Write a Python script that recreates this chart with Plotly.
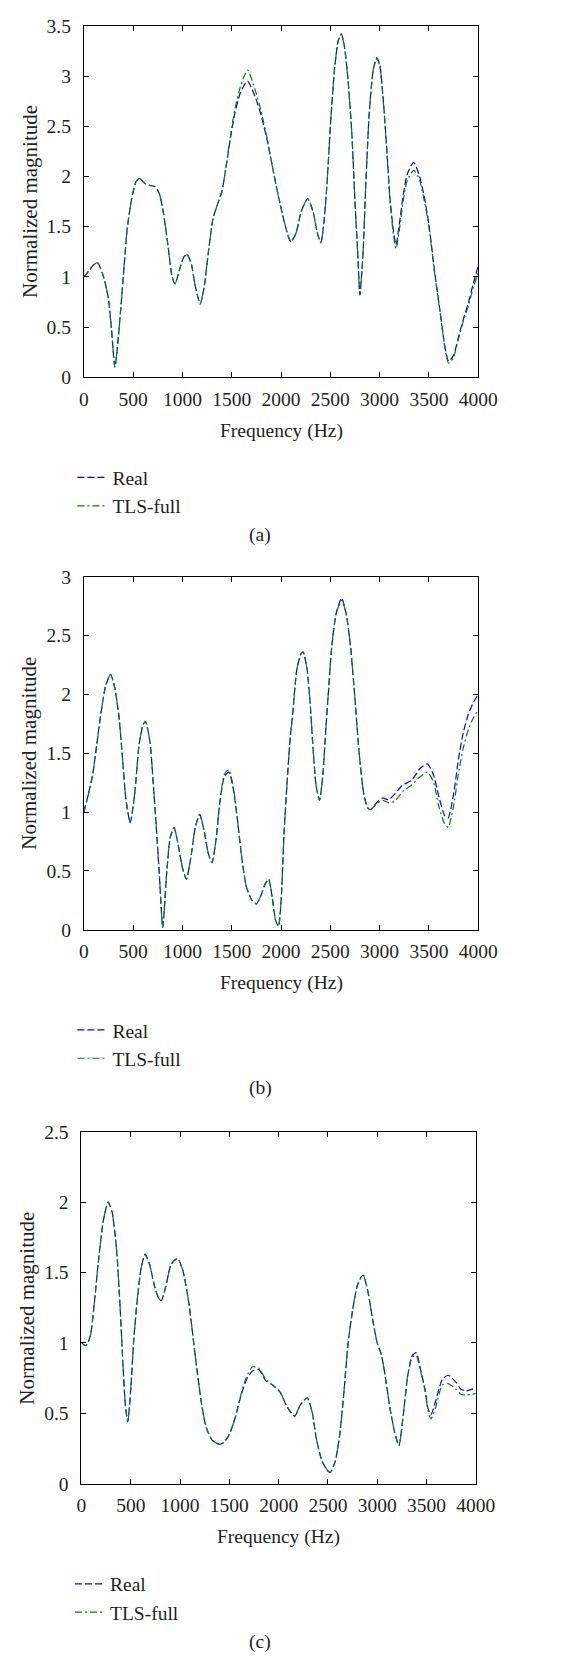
import plotly.graph_objects as go

# ---------------- data ----------------
# Panel (a)
freq_a = [0, 50, 100, 140, 200, 250, 280, 315, 350, 400, 440, 485, 530, 565, 620, 670, 720, 765, 810, 855,
          895, 925, 970, 1015, 1050, 1090, 1130, 1180, 1220, 1265, 1310, 1355, 1400, 1440, 1485, 1530, 1590,
          1660, 1735, 1795, 1855, 1910, 1970, 2030, 2075, 2100, 2150, 2205, 2270, 2325, 2370, 2405, 2440, 2470,
          2505, 2545, 2580, 2612, 2645, 2680, 2720, 2750, 2780, 2800, 2830, 2860, 2895, 2935, 2970, 3000, 3035,
          3075, 3105, 3140, 3167, 3205, 3240, 3280, 3345, 3400, 3455, 3500, 3560, 3620, 3660, 3700, 3750, 3800,
          3850, 3900, 3950, 4000]
real_a = [1.00, 1.06, 1.12, 1.14, 1.00, 0.78, 0.48, 0.10, 0.40, 1.00, 1.48, 1.78, 1.95, 1.98, 1.93, 1.91, 1.90,
          1.83, 1.62, 1.30, 1.00, 0.93, 1.07, 1.20, 1.22, 1.13, 0.91, 0.73, 0.90, 1.26, 1.58, 1.72, 1.85, 2.08,
          2.37, 2.62, 2.84, 2.95, 2.80, 2.62, 2.38, 2.11, 1.82, 1.56, 1.40, 1.35, 1.43, 1.65, 1.78, 1.65, 1.43,
          1.34, 1.59, 1.98, 2.57, 3.09, 3.35, 3.42, 3.28, 2.96, 2.40, 1.75, 1.20, 0.82, 1.20, 1.92, 2.63, 3.06,
          3.18, 3.12, 2.79, 2.24, 1.79, 1.46, 1.32, 1.56, 1.82, 2.02, 2.14, 2.02, 1.79, 1.52, 1.04, 0.61, 0.32,
          0.16, 0.22, 0.40, 0.58, 0.74, 0.93, 1.11]
tls_a = [1.00, 1.06, 1.12, 1.14, 1.00, 0.78, 0.48, 0.10, 0.40, 1.00, 1.48, 1.78, 1.95, 1.98, 1.93, 1.91, 1.90,
         1.83, 1.62, 1.30, 1.00, 0.93, 1.07, 1.20, 1.22, 1.13, 0.91, 0.73, 0.90, 1.26, 1.58, 1.72, 1.85, 2.08,
         2.39, 2.66, 2.90, 3.06, 2.87, 2.66, 2.40, 2.11, 1.82, 1.56, 1.40, 1.35, 1.43, 1.65, 1.78, 1.65, 1.43,
         1.34, 1.59, 1.98, 2.57, 3.09, 3.35, 3.42, 3.28, 2.96, 2.40, 1.75, 1.20, 0.82, 1.20, 1.92, 2.63, 3.06,
         3.17, 3.11, 2.78, 2.22, 1.76, 1.42, 1.28, 1.50, 1.76, 1.96, 2.06, 1.98, 1.75, 1.50, 1.02, 0.60, 0.31,
         0.14, 0.20, 0.38, 0.56, 0.71, 0.89, 1.04]

# Panel (b)
freq_b = [0, 45, 90, 130, 175, 220, 270, 310, 355, 390, 425, 470, 515, 560, 600, 625, 670, 705, 735, 765, 800,
          840, 875, 915, 955, 1000, 1040, 1090, 1130, 1175, 1220, 1265, 1300, 1340, 1380, 1425, 1470, 1515, 1560,
          1605, 1650, 1705, 1750, 1795, 1840, 1875, 1910, 1945, 1975, 2005, 2030, 2060, 2090, 2120, 2160, 2205,
          2225, 2265, 2295, 2325, 2355, 2390, 2425, 2455, 2485, 2515, 2560, 2615, 2660, 2705, 2750, 2795, 2840,
          2880, 2910, 2970, 3030, 3090, 3150, 3235, 3325, 3410, 3485, 3545, 3605, 3660, 3695, 3750, 3800, 3850,
          3900, 3950, 4000]
real_b = [1.00, 1.15, 1.32, 1.57, 1.85, 2.07, 2.17, 2.07, 1.82, 1.48, 1.12, 0.91, 1.15, 1.57, 1.74, 1.77, 1.60,
          1.23, 0.87, 0.48, 0.02, 0.48, 0.78, 0.87, 0.73, 0.53, 0.43, 0.64, 0.87, 0.98, 0.84, 0.64, 0.57, 0.76,
          1.09, 1.30, 1.34, 1.20, 0.92, 0.59, 0.36, 0.25, 0.22, 0.29, 0.39, 0.43, 0.28, 0.08, 0.03, 0.31, 0.81,
          1.23, 1.60, 1.85, 2.21, 2.35, 2.36, 2.21, 1.93, 1.54, 1.23, 1.10, 1.32, 1.71, 2.07, 2.41, 2.69, 2.82,
          2.69, 2.41, 1.96, 1.48, 1.15, 1.035, 1.02, 1.08, 1.12, 1.105, 1.15, 1.23, 1.27, 1.37, 1.41, 1.32, 1.12,
          0.97, 0.95, 1.15, 1.45, 1.68, 1.83, 1.93, 2.00]
tls_b = [1.00, 1.15, 1.32, 1.57, 1.85, 2.07, 2.17, 2.07, 1.82, 1.48, 1.12, 0.91, 1.15, 1.57, 1.74, 1.77, 1.60,
         1.23, 0.87, 0.48, 0.02, 0.48, 0.78, 0.87, 0.73, 0.53, 0.43, 0.64, 0.87, 0.98, 0.84, 0.64, 0.57, 0.76,
         1.09, 1.32, 1.36, 1.22, 0.92, 0.59, 0.36, 0.25, 0.22, 0.29, 0.39, 0.43, 0.28, 0.08, 0.03, 0.31, 0.81,
         1.23, 1.60, 1.85, 2.21, 2.35, 2.36, 2.21, 1.93, 1.54, 1.23, 1.10, 1.32, 1.71, 2.07, 2.41, 2.69, 2.80,
         2.69, 2.41, 1.96, 1.48, 1.15, 1.035, 1.02, 1.07, 1.10, 1.08, 1.09, 1.175, 1.23, 1.30, 1.34, 1.26, 1.035,
         0.90, 0.87, 1.05, 1.33, 1.55, 1.70, 1.80, 1.87]

# Panel (c)
freq_c = [0, 45, 90, 130, 175, 220, 270, 310, 355, 390, 420, 445, 470, 500, 530, 565, 605, 645, 690, 735, 775,
          810, 855, 910, 975, 1030, 1090, 1130, 1175, 1220, 1265, 1325, 1400, 1440, 1500, 1560, 1620, 1675, 1735,
          1800, 1870, 1940, 2015, 2075, 2120, 2165, 2220, 2290, 2340, 2380, 2440, 2500, 2525, 2575, 2620, 2660,
          2705, 2750, 2795, 2840, 2860, 2910, 2955, 3000, 3045, 3090, 3130, 3175, 3220, 3265, 3310, 3355, 3395,
          3440, 3485, 3515, 3545, 3590, 3660, 3720, 3800, 3850, 3900, 4000]
real_c = [1.00, 0.98, 1.05, 1.28, 1.60, 1.86, 2.00, 1.93, 1.67, 1.28, 0.86, 0.56, 0.44, 0.67, 1.02, 1.30, 1.53,
          1.63, 1.56, 1.42, 1.33, 1.30, 1.40, 1.56, 1.60, 1.51, 1.28, 1.05, 0.79, 0.56, 0.40, 0.31, 0.28, 0.29,
          0.35, 0.47, 0.63, 0.74, 0.80, 0.81, 0.73, 0.70, 0.65, 0.56, 0.51, 0.48, 0.56, 0.61, 0.51, 0.33, 0.16,
          0.09, 0.08, 0.16, 0.35, 0.63, 1.00, 1.23, 1.40, 1.47, 1.48, 1.35, 1.16, 1.00, 0.91, 0.72, 0.535, 0.37,
          0.27, 0.49, 0.77, 0.91, 0.93, 0.81, 0.67, 0.535, 0.49, 0.58, 0.74, 0.77, 0.72, 0.67, 0.66, 0.68]
tls_c = [1.00, 0.98, 1.05, 1.28, 1.60, 1.86, 2.00, 1.93, 1.67, 1.28, 0.86, 0.56, 0.44, 0.67, 1.02, 1.30, 1.53,
         1.63, 1.56, 1.42, 1.33, 1.30, 1.40, 1.56, 1.60, 1.51, 1.28, 1.05, 0.79, 0.56, 0.40, 0.31, 0.28, 0.29,
         0.35, 0.47, 0.64, 0.76, 0.83, 0.82, 0.74, 0.70, 0.65, 0.56, 0.51, 0.48, 0.56, 0.61, 0.51, 0.33, 0.16,
         0.09, 0.08, 0.16, 0.35, 0.63, 1.00, 1.23, 1.40, 1.47, 1.48, 1.35, 1.16, 1.00, 0.91, 0.72, 0.535, 0.37,
         0.27, 0.49, 0.77, 0.90, 0.91, 0.80, 0.66, 0.52, 0.46, 0.535, 0.70, 0.71, 0.67, 0.635, 0.63, 0.64]

x_ticks = [0, 500, 1000, 1500, 2000, 2500, 3000, 3500, 4000]
y_ticks_a = [0, 0.5, 1, 1.5, 2, 2.5, 3, 3.5]
y_ticks_b = [0, 0.5, 1, 1.5, 2, 2.5, 3]
y_ticks_c = [0, 0.5, 1, 1.5, 2, 2.5]
series_names = ["Real", "TLS-full"]
panel_labels = ["(a)", "(b)", "(c)"]
x_title = "Frequency (Hz)"
y_title = "Normalized magnitude"

# ---------------- layout helpers ----------------
W, H = 567, 1665
FONT = "Liberation Serif, Times New Roman, serif"
TXT = "#231f20"
BLUE = "#0000ff"
GREEN = "#008000"

# pixel boxes: (left, right, top, bottom)
boxes = [(82.5, 495.0, 16.0, 372.0),
         (82.5, 495.0, 574.0, 931.5),
         (80.0, 492.5, 1136.0, 1492.5)]

panels = [
    (freq_a, real_a, tls_a, y_ticks_a, 3.5),
    (freq_b, real_b, tls_b, y_ticks_b, 3.0),
    (freq_c, real_c, tls_c, y_ticks_c, 2.5),
]

fig = go.Figure()
annotations = []
layout_axes = {}

for i, ((l, r, t, b), (fq, rv, tv, yt, ymax)) in enumerate(zip(boxes, panels)):
    n = "" if i == 0 else str(i + 1)
    leg = "legend" if i == 0 else f"legend{i + 1}"
    fig.add_trace(go.Scatter(
        x=fq, y=rv, name=series_names[0], mode="lines",
        line=dict(color=BLUE, width=1.2, dash="7px,3px", shape="spline", smoothing=0.6),
        xaxis=f"x{n}", yaxis=f"y{n}", legend=leg, hoverinfo="skip"))
    fig.add_trace(go.Scatter(
        x=fq, y=tv, name=series_names[1], mode="lines",
        line=dict(color=GREEN, width=1.2, dash="7px,3px,2px,3px", shape="spline", smoothing=0.6),
        xaxis=f"x{n}", yaxis=f"y{n}", legend=leg, hoverinfo="skip"))

    xd = [l / W, r / W]
    yd = [1 - b / H, 1 - t / H]
    common = dict(showline=True, linecolor="#000", linewidth=1, mirror="ticks", ticks="inside",
                  ticklen=5, tickcolor="#000", tickwidth=1, showgrid=False, zeroline=False,
                  tickfont=dict(family=FONT, size=19.5, color=TXT))
    layout_axes[f"xaxis{n}"] = dict(domain=xd, range=[0, 4000], tickvals=x_ticks,
                                    ticktext=[str(v) for v in x_ticks], anchor=f"y{n}",
                                    ticklabelstandoff=4, **common)
    layout_axes[f"yaxis{n}"] = dict(domain=yd, range=[0, ymax], tickvals=yt,
                                    ticktext=[f"{v:g}" for v in yt], anchor=f"x{n}",
                                    ticklabelstandoff=8, **common)

    cx = (l + r) / 2
    annotations.append(dict(text=x_title, x=cx / W, y=1 - (b + 54) / H, xref="paper", yref="paper",
                            showarrow=False, xanchor="center", yanchor="middle",
                            font=dict(family=FONT, size=19.5, color=TXT)))
    annotations.append(dict(text=y_title, x=(l - 57) / W, y=1 - ((t + b) / 2) / H, xref="paper",
                            yref="paper", showarrow=False, textangle=-90, xanchor="center",
                            yanchor="middle", font=dict(family=FONT, size=21, color=TXT)))
    annotations.append(dict(text=panel_labels[i], x=267 / W, y=1 - (b + 160) / H, xref="paper",
                            yref="paper", showarrow=False, xanchor="center", yanchor="middle",
                            font=dict(family=FONT, size=19.5, color=TXT)))
    layout_axes[leg] = dict(x=(l - 12) / W, y=1 - (b + 82) / H, xanchor="left", yanchor="top",
                            bgcolor="rgba(0,0,0,0)", font=dict(family=FONT, size=19.5, color=TXT),
                            itemwidth=30, tracegroupgap=0)

fig.update_layout(
    width=W, height=H, margin=dict(l=0, r=0, t=0, b=0),
    paper_bgcolor="white", plot_bgcolor="white",
    showlegend=True, annotations=annotations, hovermode=False,
    **layout_axes)

fig.write_html("out.html", config={"displayModeBar": False})
